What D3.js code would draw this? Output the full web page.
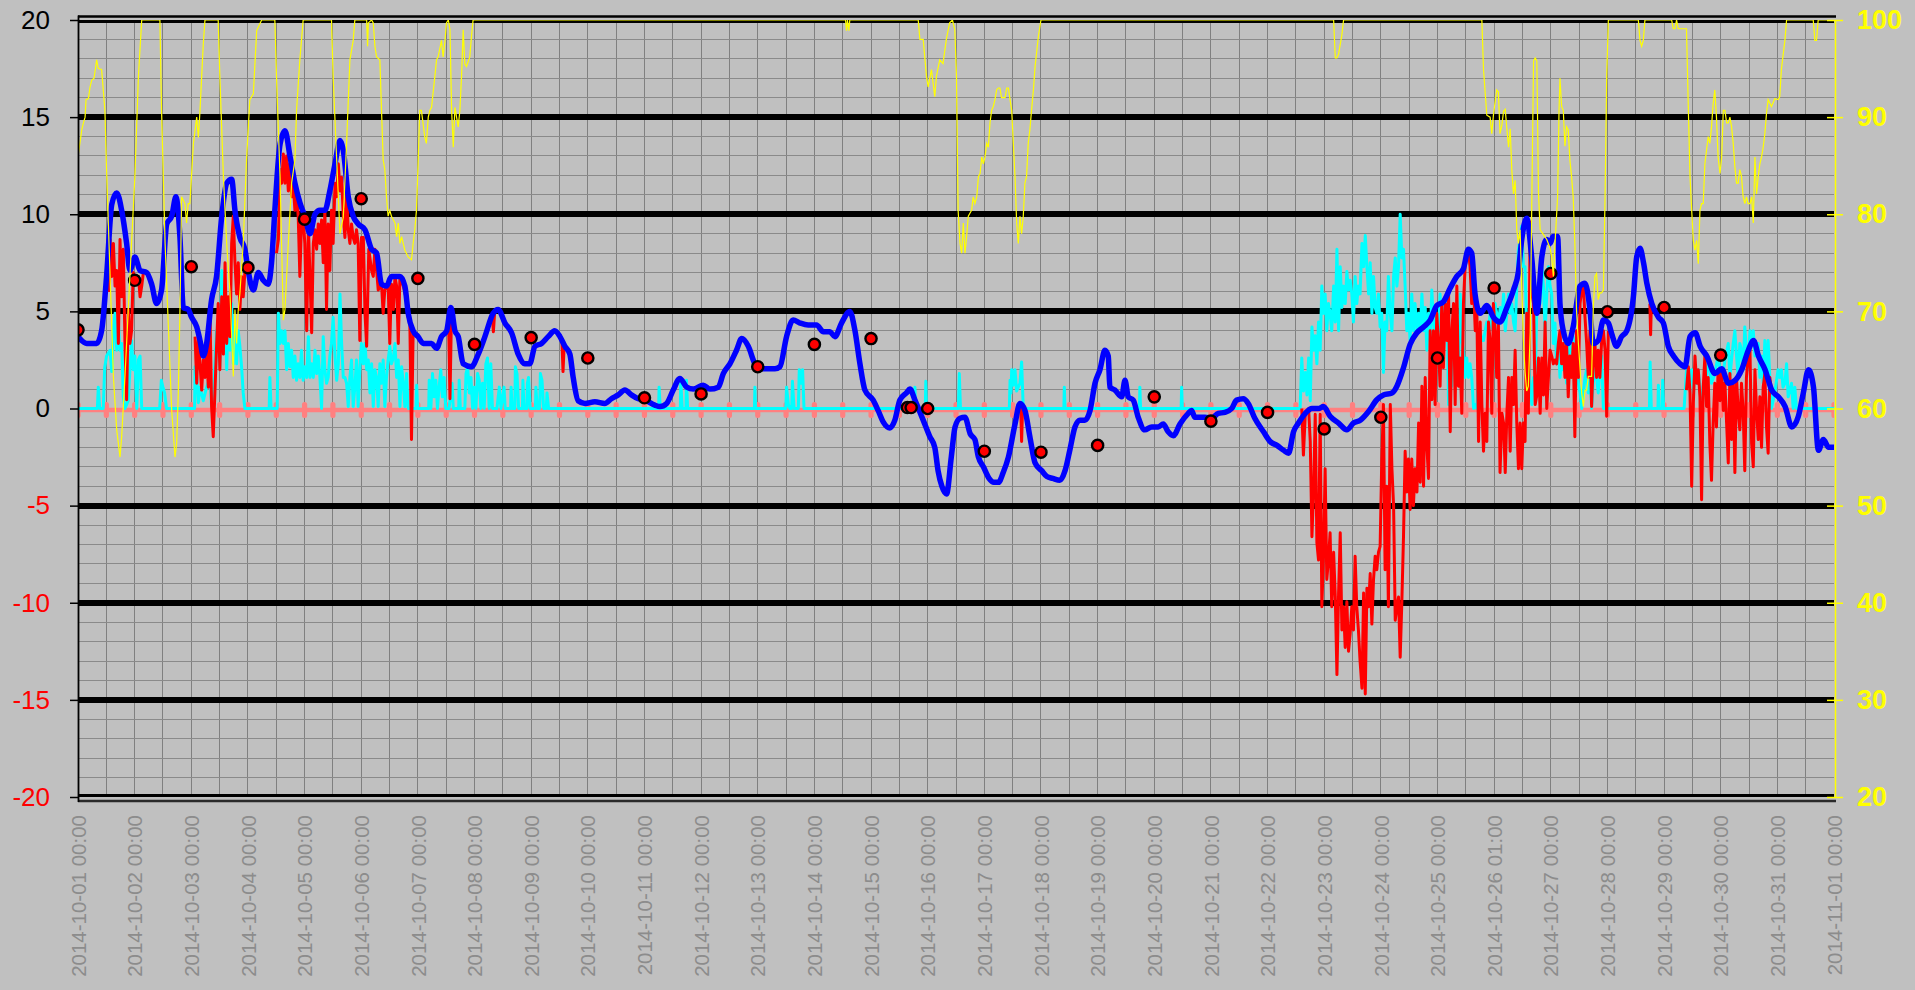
<!DOCTYPE html>
<html>
<head>
<meta charset="utf-8">
<script src="https://cdn.jsdelivr.net/npm/d3@7"></script>
<style>
  body { margin: 0; background: #c0c0c0; }
  svg { display: block; font-family: "Liberation Sans", Arial, sans-serif; }
</style>
</head>
<body>
<svg id="chart" width="1915" height="990"></svg>
<script>
// hours counted from 2014-10-01 00:00

var xTickLabels = ["2014-10-01 00:00","2014-10-02 00:00","2014-10-03 00:00","2014-10-04 00:00","2014-10-05 00:00",
  "2014-10-06 00:00","2014-10-07 00:00","2014-10-08 00:00","2014-10-09 00:00","2014-10-10 00:00","2014-10-11 00:00",
  "2014-10-12 00:00","2014-10-13 00:00","2014-10-14 00:00","2014-10-15 00:00","2014-10-16 00:00","2014-10-17 00:00",
  "2014-10-18 00:00","2014-10-19 00:00","2014-10-20 00:00","2014-10-21 00:00","2014-10-22 00:00","2014-10-23 00:00",
  "2014-10-24 00:00","2014-10-25 00:00","2014-10-26 01:00","2014-10-27 00:00","2014-10-28 00:00","2014-10-29 00:00",
  "2014-10-30 00:00","2014-10-31 00:00","2014-11-01 00:00"];

var leftTicks = [-20, -15, -10, -5, 0, 5, 10, 15, 20];
var rightTicks = [20, 30, 40, 50, 60, 70, 80, 90, 100];

// thick blue line
var blueTemp = [
  [0,3.7],[3.7,3.35],[7.9,3.35],[10,4.0],[12.1,6.8],[14.3,10.5],[16.4,11.1],[18.5,10.2],[20.6,8.5],[22,7.1],
  [24.1,7.8],[26.3,7.1],[29.1,7.0],[31.2,6.4],[33.3,5.4],[35.4,6.1],[37.6,9.5],[39.7,9.9],[41.5,10.9],[43.2,8.8],
  [44.6,5.2],[46.7,5.1],[48.1,4.7],[50.3,4.2],[51.7,3.5],[53.1,2.7],[54.5,3.35],[56.6,5.6],[58.7,6.8],[60.9,9.9],
  [63,11.6],[65.1,11.8],[66.5,10.2],[68.6,8.8],[70.7,8.2],[72.1,7.1],[74.3,6.1],[76.4,7.0],[78.5,6.6],[80.6,6.4],
  [82,7.5],[83.4,10.2],[85.6,13.6],[87.7,14.3],[89.8,13.0],[91.9,11.6],[94,10.6],[96.1,9.9],[98.3,9.0],[100.4,10.0],
  [102.5,10.2],[104.6,10.2],[106.7,11.2],[108.9,12.6],[111,13.8],[112.4,13.3],[114.5,10.9],[116.6,9.9],[118.7,9.5],
  [121.6,9.2],[124.4,8.2],[126.5,8.0],[128.6,6.4],[130.7,6.3],[132.8,6.8],[136.4,6.8],[138.5,6.3],[139.9,4.9],[142,4.0],
  [144.1,3.7],[146.3,3.35],[149.8,3.35],[151.9,3.1],[154,3.7],[156.2,4.0],[158,5.2],[159.7,4.0],[161.1,3.7],[163.2,2.3],
  [166.7,2.15],[169.6,2.8],[172.4,3.7],[175.9,4.9],[178,5.1],[180.9,4.4],[183.7,3.9],[186.5,2.8],[189.3,2.3],[191.4,2.3],
  [193.6,3.2],[196.4,3.35],[199.2,3.7],[202,4.0],[204.2,3.7],[206.3,3.2],[208.4,2.8],[209.8,1.6],[211.9,0.4],[214.8,0.26],
  [219,0.35],[223.2,0.26],[226,0.5],[228.9,0.7],[231.7,0.95],[234.5,0.7],[237.4,0.5],[240.2,0.43],[244.4,0.17],[246.6,0.1],
  [249.4,0.26],[252.2,0.95],[255,1.55],[257.9,1.1],[260.7,1.0],[264.9,1.2],[267.7,1.0],[271.3,1.1],[273.4,1.8],[276.2,2.3],
  [279,3.0],[281.2,3.6],[284,3.2],[286.8,2.3],[288.9,2.05],[295.3,2.05],[297.4,2.15],[300.2,3.7],[303,4.55],[305.9,4.4],
  [309.4,4.3],[312.9,4.3],[315.8,3.95],[318.6,3.95],[320.7,3.7],[323.5,4.4],[327,5.0],[329.2,4.0],[331.3,2.3],[333.4,0.95],
  [336.9,0.43],[339,-0.1],[341.2,-0.7],[344,-1.0],[346.1,-0.6],[348.2,0.43],[351,0.8],[352.5,1.0],[354.6,0.43],[358.1,-0.6],
  [360.9,-1.45],[363,-2.0],[364.4,-3.2],[366,-4.0],[368,-4.4],[370,-2.5],[371.6,-0.95],[373.7,-0.5],[375.8,-0.45],[378,-1.3],
  [380,-1.6],[381.5,-2.5],[383.6,-3.0],[386,-3.6],[388,-3.8],[390,-3.8],[392,-3.3],[394.2,-2.5],[397,-0.8],[399.1,0.26],
  [401.2,-0.1],[403.3,-1.45],[405.5,-2.8],[408.3,-3.2],[410.5,-3.5],[413,-3.6],[416,-3.7],[418.2,-3.2],[420.3,-2.1],[422.4,-0.95],
  [424.5,-0.6],[426.6,-0.6],[428.8,-0.1],[430.9,1.3],[433,2.0],[435.1,3.0],[436.5,2.7],[437.2,1.1],[439.3,0.95],[442.2,0.6],
  [443.6,1.45],[445,0.6],[447.1,0.43],[449.2,-0.45],[452,-1.1],[454.9,-0.95],[457.7,-0.95],[459.8,-0.8],[461.9,-1.2],[464.1,-1.4],
  [466.9,-0.8],[470.4,-0.25],[471.8,-0.1],[473.2,-0.45],[477.5,-0.45],[480.3,-0.5],[483.1,-0.25],[485.9,-0.2],[488.8,0],[490.9,0.43],
  [493.7,0.5],[495.8,0.26],[498.6,-0.5],[502.3,-1.2],[505.1,-1.7],[508,-1.9],[510.8,-2.15],[512.9,-2.3],[515,-1.2],[517.1,-0.75],
  [520,-0.25],[522.8,0],[525.6,0],[527.7,0.1],[530.5,-0.4],[534.1,-0.75],[537.6,-1.1],[540.4,-0.75],[543.3,-0.6],[546.8,-0.15],
  [550.3,0.45],[553.1,0.7],[556.7,0.8],[558.8,1.15],[561.6,2.1],[564.4,3.3],[567.3,3.9],[570.1,4.2],[572.9,4.55],[575.7,5.3],
  [578.5,5.5],[581.4,6.2],[584.2,6.8],[587,7.2],[589.1,8.2],[590.5,8.0],[591.9,5.9],[594.1,4.9],[596.9,5.3],[599.7,4.7],
  [602.5,4.45],[605.4,5.2],[608.2,6.1],[610.3,7.05],[611.7,8.7],[613.8,9.8],[615.9,7.8],[618.1,4.9],[620.2,7.8],[622.3,8.7],
  [623.7,8.5],[625,8.85],[626.9,8.85],[627.9,5.4],[629.3,4.0],[631.4,3.35],[633.5,4.2],[636.4,6.3],[638.5,6.45],[640.6,5.1],
  [642,3.35],[644.1,3.5],[646.3,4.55],[648.4,4.4],[649.8,3.85],[651.9,3.2],[654,3.7],[656.2,4.0],[659,5.75],[660.4,7.8],
  [661.8,8.25],[663.3,7.5],[664.7,6.45],[666.8,5.4],[669.6,4.7],[671.7,4.4],[673.8,3.2],[676,2.7],[678.8,2.3],[680.9,2.15],
  [683,3.7],[685.2,3.9],[687.3,3.2],[690.1,2.7],[693.6,1.8],[696.4,2.05],[699.3,1.3],[702.1,1.45],[704.9,2.0],[707.7,3.0],
  [709.9,3.5],[712,2.7],[714.8,2.0],[717.6,0.95],[720.4,0.6],[723.3,0.1],[726.1,-0.95],[728.9,-0.4],[731,0.8],[733.2,2.0],
  [735.3,1.1],[737.4,-2.15],[739.5,-1.6],[741.7,-2.0],[744,-2.0]
];

// spiky red line, null = gap
var redTemp = [
  [13.3,6.0],[13.6,8.7],[14.3,6.8],[15,8.5],[15.7,6.3],[16.4,7.1],[17.1,3.35],[17.8,8.7],[18.5,5.75],[19.2,8.2],[19.9,3.35],
  [20.6,0.45],[21.3,5.1],[22,3.35],[22.7,4.0],[23.4,7.0],[24.1,6.8],[25.6,6.8],[26.3,5.75],[27,6.3],[27.7,7.0],[27.8,null],
  [49.6,3.7],[50.3,1.3],[51,3.5],[51.7,2.3],[52.4,0.95],[53.1,2.5],[53.8,1.6],[54.5,3.2],[55.2,1.1],[55.9,5.1],[56.6,0.1],
  [57.3,-1.45],[58,0.8],[58.7,3.2],[59.4,5.4],[60.1,2.0],[60.9,5.75],[61.6,2.8],[62.3,7.5],[63,3.35],[63.7,5.75],[64.4,3.7],
  [65.1,8.5],[65.8,9.9],[66.5,7.5],[67.2,5.9],[67.9,7.5],[68.6,5.1],[69.3,6.8],[70,5.75],[70.7,7.0],[70.8,null],
  [84.1,8.0],[84.9,8.7],[85.6,12.3],[86.3,11.6],[87,13.1],[87.7,11.6],[88.4,13.0],[89.1,11.2],[89.8,12.6],[90.5,10.9],
  [91.2,11.6],[91.9,10.2],[92.6,11.1],[93.3,9.9],[94,6.8],[94.7,9.5],[95.4,9.9],[96.1,8.5],[96.9,4.0],[97.6,9.4],[98.3,6.8],
  [99,3.9],[99.7,8.5],[100.4,9.2],[101.1,8.2],[101.8,9.5],[102.5,8.5],[103.2,9.7],[103.9,7.5],[104.6,10.2],[105.3,5.1],
  [106,9.5],[106.7,7.1],[107.4,10.2],[108.1,8.5],[108.9,11.6],[109.6,10.9],[110.3,12.6],[111,11.2],[111.7,11.9],[112.4,9.9],
  [113.1,8.8],[113.8,11.2],[114.5,9.2],[115.2,8.5],[115.9,9.5],[116.6,8.8],[117.3,8.5],[118,9.2],[118.7,8.5],[119.4,3.5],
  [120.1,8.8],[120.9,8.8],[121.6,4.9],[122.3,3.2],[123.2,8.2],[124.4,7.1],[125.1,6.8],[125.8,8.2],[127.2,6.1],[128.6,6.4],
  [129.3,4.9],[130,6.1],[131.4,6.4],[132.1,3.35],[132.8,6.4],[133.6,5.1],[134.3,6.8],[135,6.3],[135.7,3.35],[136.4,6.8],
  [137.8,6.3],[139.2,5.6],[139.9,4.7],[140.6,4.4],[141.3,-1.6],[142,4.0],[142.7,3.7],[142.8,null],
  [157,4.6],[157.6,0.5],[158.2,4.6],[158.3,null],
  [175.5,4.8],[176,3.95],[176.5,4.9],[176.6,null],
  [205,3.6],[205.5,1.9],[206,3.3],[206.1,null],
  [399.4,0.1],[399.8,-1.7],[400.2,0.0],[400.3,null],
  [518.5,0],[519.2,-2.4],[520,-0.25],[521.4,0],[522.1,-1.7],[522.8,-6.6],[523.5,-4.3],[524.2,-0.3],[524.9,-6.9],[525.6,-7.8],
  [526.3,-0.3],[527,-10.2],[527.7,-7.6],[528.4,-3.1],[529.1,-8.8],[529.8,-7.8],[530.5,-6.4],[531.2,-10.2],[532,-7.4],[532.7,-9.7],
  [533.4,-13.7],[534.1,-9.5],[534.8,-6.4],[535.5,-11.4],[536.2,-10.2],[536.9,-12.3],[537.6,-9.95],[538.3,-12.5],[539,-11.6],
  [539.7,-10.2],[540.4,-11.4],[541.1,-7.6],[541.8,-10.2],[542.5,-11.4],[543.2,-13.0],[544,-14.4],[544.7,-9.5],[545.4,-14.7],
  [546.1,-9.25],[546.8,-10.2],[547.5,-8.5],[548.2,-11.1],[548.9,-8.8],[549.6,-7.6],[550.3,-8.3],[551,-7.4],[551.7,-7.1],
  [552.4,-2.6],[553.1,0.2],[553.8,-8.3],[554.5,-4.0],[555.2,-10.2],[556,0.2],[556.7,-3.1],[557.4,-5.0],[558.1,-10.9],
  [558.8,-10.2],[559.5,-9.7],[560.2,-12.8],[560.9,-9.95],[561.6,-6.6],[562.3,-2.2],[563,-4.3],[563.7,-2.6],[564.4,-5.2],
  [565.1,-2.6],[565.8,-5.0],[566.5,-3.1],[567.3,-4.3],[568,-0.75],[568.7,-3.8],[569.4,1.15],[570.1,-4.0],[570.8,1.6],
  [571.5,-1.9],[572.2,-3.6],[572.9,4.0],[573.6,0.45],[574.3,4.0],[575,0.2],[575.7,4.9],[576.4,3.3],[577.1,1.15],[577.8,5.4],
  [578.5,2.1],[579.3,5.4],[580,3.5],[580.7,5.9],[581.4,-1.2],[582.1,4.0],[582.8,5.4],[583.5,0.2],[584.2,6.3],[584.9,1.15],
  [585.6,2.6],[586.3,-0.25],[587,5.4],[587.7,7.3],[588.4,7.8],[589.1,8.2],[589.8,7.3],[590.5,5.4],[591.3,6.3],[592,4.0],
  [592.7,4.9],[593.4,-1.7],[594.1,4.45],[594.8,0.2],[595.5,-2.2],[596.2,-0.25],[596.9,-1.7],[597.6,4.45],[598.3,3.5],
  [599,-0.25],[599.7,5.4],[600.4,4.0],[601.1,1.6],[601.8,4.45],[602.5,-3.3],[603.3,-0.25],[604,-0.75],[604.7,-3.3],
  [605.4,-0.25],[606.1,1.6],[606.8,-2.2],[607.5,1.6],[608.2,0.2],[608.9,3.0],[609.6,-0.75],[610.3,-3.1],[611,-0.75],
  [611.7,-3.1],[612.4,-0.75],[613.1,-1.7],[613.8,4.9],[614.5,-0.25],[615.3,9.6],[616,5.9],[616.7,5.4],[617.4,0.2],[618.1,0.7],
  [618.8,2.6],[619.5,-0.25],[620.2,2.6],[620.9,0.7],[621.6,4.45],[622.3,0],[623,1.6],[623.7,3.0],[624.4,2.7],[625.1,2.3],
  [625.8,2.5],[626.5,2.3],[627.2,3.35],[627.9,4.0],[628.6,2.3],[629.3,3.35],[630,1.6],[630.7,3.35],[631.4,0.6],[632.1,2.7],
  [632.8,1.6],[633.5,3.35],[634.2,-1.45],[634.9,4.0],[635.7,1.6],[636.4,5.4],[637.1,6.1],[637.8,6.3],[638.5,4.7],[639.2,3.35],
  [639.9,1.6],[640.6,4.0],[641.3,0.1],[642,2.5],[642.7,3.35],[643.4,1.6],[644.1,3.0],[644.8,1.6],[645.5,3.35],[646.3,4.0],
  [647,3.0],[647.7,-0.4],[648.4,4.0],[648.5,null],
  [666,5.4],[666.3,3.8],[666.6,5.3],[666.7,null],
  [681.5,0.95],[682.3,2.15],[683,0.8],[683.7,-4.0],[684.4,0.25],[685.1,2.7],[685.8,1.3],[686.5,2.0],[687.2,0.6],[687.9,-4.7],
  [688.6,1.1],[689.3,2.7],[690,0.1],[690.7,1.6],[691.4,-1.8],[692.1,-3.7],[692.8,-0.75],[693.5,1.3],[694.2,-0.95],[694.9,2.0],
  [695.7,0.4],[696.4,2.0],[697.1,-0.1],[697.8,1.3],[698.5,-0.75],[699.2,-2.8],[699.9,1.8],[700.6,-1.6],[701.3,1.45],[702,-3.3],
  [702.7,1.6],[703.4,-0.1],[704.1,-1.1],[704.8,1.3],[705.5,-0.1],[706.2,-3.2],[706.9,1.6],[707.6,2.7],[708.4,3.0],[709.1,-1.8],
  [709.8,-3.0],[710.5,2.0],[711.2,-0.1],[711.9,-1.6],[712.6,0.6],[713.3,-2.0],[714,1.1],[714.7,1.8],[715.4,-0.95],[716.1,-2.3],
  [716.8,1.6],[717.5,0.95]
];

// cyan line, flat at zero between spikes
var cyanSeries = [
  [0,0],[8.2,0],[8.6,1.1],[9.2,0],[10.7,0],[11.3,2.1],[12.1,2.7],[13.6,3.0],[14.3,1.9],[15,4.0],[15.7,4.9],[16.4,3.0],
  [17.1,4.4],[17.8,3.0],[18.5,3.35],[19.2,0.6],[19.9,0],[21.3,0.4],[22,2.0],[22.7,3.5],[23.4,2.0],[24.1,2.7],[24.9,0],
  [25.6,2.5],[26.3,2.7],[27,0],[34.6,0],[35.3,1.45],[36,1.1],[36.7,0.8],[37.5,0],
  [49.4,0],[49.6,2.15],[50.3,1.6],[51,0.3],[51.7,1.1],[53.1,0.4],[54.5,1.1],[55.9,1.6],[56.6,0.1],[57.3,0.6],[58.7,4.0],
  [60.1,2.15],[60.9,7.1],[61.6,3.35],[62.3,5.75],[63,2.0],[63.7,5.1],[64.4,3.0],[65.1,5.4],[65.8,2.3],[66.5,4.2],[67.2,2.3],
  [67.9,4.0],[68.6,3.2],[69.3,2.15],[70,0.8],[70.7,0],[81,0],[81.3,1.6],[81.8,0],
  [84.4,0],[84.9,4.9],[85.6,3.35],[86.3,4.0],[87,3.35],[87.7,4.0],[88.4,2.0],[89.1,3.35],[89.8,2.15],[90.5,3.0],[91.2,1.6],
  [91.9,2.7],[92.6,1.45],[93.3,2.3],[94,1.6],[94.7,3.0],[95.4,1.45],[96.1,2.15],[96.9,1.6],[97.6,3.7],[98.3,1.6],[99,2.3],
  [99.7,1.6],[100.4,3.0],[101.1,1.8],[101.8,2.7],[102.5,1.6],[103.2,0],[103.9,3.7],[104.6,2.0],[105.3,1.3],[106,1.6],
  [106.7,2.7],[107.4,3.35],[108.1,4.7],[108.9,2.7],[109.6,1.45],[110.3,2.3],[111,5.9],[111.7,3.35],[112.4,1.6],[113.1,1.6],
  [113.8,1.3],[114.5,0.1],[115.2,1.6],[115.9,2.5],[116.6,0.1],[117.3,1.1],[118,2.5],[118.7,0.1],[119.4,2.0],[120.1,3.35],
  [120.9,2.3],[121.6,3.35],[122.3,2.0],[123,2.5],[123.7,0.8],[124.4,2.3],[125.1,0.1],[125.8,2.0],[126.5,1.6],[127.2,0.1],
  [127.9,2.3],[128.6,1.3],[129.3,2.5],[130,0.1],[130.7,1.6],[131.4,2.5],[132.1,3.2],[132.8,2.3],[133.6,2.6],[134.3,3.35],
  [135,1.6],[135.7,2.5],[136.4,0.1],[137.1,2.15],[137.8,1.3],[138.5,0.1],[139.2,1.8],[139.9,0],
  [143.2,0],[143.5,1.2],[143.9,0],[148.6,0],[148.8,1.45],[149.5,0],[150.2,1.8],[150.9,0.6],[151.6,1.45],[152.3,0],[153,1.1],
  [153.7,2.0],[154.4,0.6],[155.1,1.6],[155.8,0],[157.2,0],[158.5,1.3],[159,0],[161.3,0],[161.5,1.45],[162,0],[163.9,0],
  [164.4,1.8],[165.1,2.15],[165.8,0.8],[166.5,1.6],[167.2,0],[167.9,1.1],[168.6,0],[169.3,1.8],[170,1.45],[170.7,0],
  [171.4,1.3],[172.1,0],[172.8,2.3],[173.5,2.6],[174.2,0],[174.9,2.3],[175.6,0],[177.5,0],[178.5,1.1],[179.2,0],[180.5,1.1],
  [181,0],[183.3,0],[183.5,1.1],[184,0],[185.1,0],[185.3,2.15],[186,1.8],[186.7,0],[188.3,0],[188.5,1.45],[189,0],[190.2,0],
  [190.4,1.3],[190.9,1.6],[191.6,0],[193.8,0],[194,1.1],[194.6,0],[195.6,0],[195.9,1.8],[196.6,1.45],[197.3,0],[198.4,0],
  [198.7,0.8],[199.4,0],[246,0],[246.2,1.1],[246.7,0],[255.2,0],[255.4,1.4],[256,0],[257.6,0],[257.8,1.45],[258.3,0],
  [286.6,0],[286.8,1.1],[287.1,0],[299.9,0],[300.2,1.1],[301,0.2],[301.6,0],[302.4,0],[302.7,1.4],[303.4,0],[305.2,0],
  [305.6,2.0],[306.3,1.3],[307,2.0],[307.6,0],[354.4,0],[354.6,1.1],[354.9,0],[359,0],[359.2,1.4],[359.5,0],
  [373,0],[373.4,1.8],[373.9,0],[394.6,0],[394.9,1.45],[395.3,0.8],[395.6,2.0],[396.3,1.2],[397,2.0],[397.7,0.9],[398.4,1.1],
  [399.1,1.3],[399.8,2.4],[400.5,0],[417.7,0],[417.9,1.1],[418.2,0],[449.7,0],[449.9,1.1],[450.2,0],[467.4,0],[467.6,1.1],
  [467.9,0],
  [517.8,0],[518.5,2.6],[519.2,0.9],[520,1.85],[520.7,0.7],[521.4,2.6],[522.1,0.4],[522.8,4.2],[523.5,3.0],[524.2,3.75],
  [524.9,2.3],[525.6,4.45],[526.3,3.0],[527,6.3],[527.7,4.9],[528.4,5.9],[529.1,4.0],[529.8,5.4],[530.5,4.9],[531.2,4.0],
  [532,6.3],[532.7,4.45],[533.4,8.2],[534.1,4.0],[534.8,7.3],[535.5,5.2],[536.2,6.3],[536.9,5.4],[537.6,7.05],[538.3,6.1],
  [539,6.6],[539.7,5.9],[540.4,4.45],[541.1,6.8],[541.8,5.4],[542.5,6.3],[543.2,5.9],[544,8.5],[544.7,7.3],[545.4,8.9],
  [546.1,7.3],[546.8,5.9],[547.5,7.5],[548.2,4.9],[548.9,6.8],[549.6,5.2],[550.3,4.9],[551,5.9],[551.7,4.2],[552.4,4.9],
  [553.1,1.85],[553.8,4.45],[554.5,4.0],[555.2,6.8],[556,4.9],[556.7,4.0],[557.4,6.8],[558.1,7.75],[558.8,6.3],[559.5,7.3],
  [560.2,10.0],[560.9,7.75],[561.6,8.2],[562.3,6.3],[563,4.0],[563.7,4.9],[564.4,3.5],[565.1,5.9],[565.8,4.0],[566.5,5.4],
  [567.3,4.0],[568,4.9],[568.7,4.0],[569.4,5.9],[570.1,4.0],[570.8,5.2],[571.5,3.0],[572.2,4.9],[572.9,3.5],[573.6,6.1],
  [574.3,4.45],[575,3.5],[575.7,4.9],[576.4,4.0],[577.1,5.9],[577.8,3.0],[578.5,5.4],[579.3,4.45],[580,5.9],[580.7,0.2],
  [581.4,4.0],[582.1,1.15],[582.8,4.0],[583.5,2.6],[584.2,4.45],[584.9,1.6],[585.6,5.9],[586.3,3.5],[587,3.0],[587.7,1.6],
  [588.4,2.6],[589.1,1.6],[589.8,2.3],[590.5,1.6],[591.3,0],[592,0.2],[592.7,0],[593.4,2.1],[594.1,4.0],[594.8,3.5],
  [595.5,3.5],[596.2,4.0],[596.9,4.45],[597.6,4.0],[598.3,4.9],[599,4.2],[599.7,4.0],[600.4,5.4],[601.1,4.9],[601.8,4.0],
  [602.5,5.2],[603.3,4.45],[604,5.9],[604.7,4.0],[605.4,4.9],[606.1,5.9],[606.8,4.9],[607.5,5.4],[608.2,4.45],[608.9,4.0],
  [609.6,6.3],[610.3,8.2],[611,8.7],[611.7,9.4],[612.4,7.3],[613.1,7.3],[613.8,4.0],[614.5,2.6],[615.3,1.15],[616,0.2],
  [616.7,1.6],[617.4,1.15],[618.1,5.4],[618.8,6.3],[619.5,5.4],[620.2,7.3],[620.9,6.3],[621.6,4.0],[622.3,5.9],[623,7.3],
  [623.7,6.3],[624.4,5.9],[625.1,3.35],[625.8,4.4],[626.5,2.3],[627.2,3.35],[627.9,1.6],[628.6,2.5],[629.3,2.0],[630,3.35],
  [630.7,1.3],[631.4,2.3],[632.1,3.35],[632.8,2.15],[633.5,3.7],[634.2,1.6],[634.9,3.35],[635.7,1.3],[636.4,0.8],[637.1,0],
  [638.5,1.6],[639.2,2.0],[639.9,0.8],[640.6,2.0],[641.3,0],[642,1.3],[642.7,2.0],[643.4,1.6],[644.1,0.8],[644.8,2.0],
  [645.5,2.7],[646.3,0],[665.8,0],[666.1,2.4],[666.6,0],[669.4,0],[669.6,1.2],[669.9,0],[671.2,0],[671.4,1.45],[671.8,0],
  [680.5,0],[680.9,0.8],[681.6,2.1],[682.3,1.1],[683.7,2.0],[684.4,0.8],[685.1,2.15],[685.8,1.3],[686.5,2.0],[687.9,0.3],
  [689.3,1.1],[690.7,2.5],[692.1,1.3],[693.5,1.8],[694.9,2.7],[696.4,1.3],[697.8,2.5],[699.2,3.35],[699.9,1.6],[700.6,2.5],
  [701.3,3.35],[702,4.0],[702.7,2.7],[703.4,1.6],[704.1,3.35],[704.8,3.0],[705.5,2.0],[706.2,4.2],[706.9,3.0],[707.6,2.0],
  [708.4,4.0],[709.1,3.35],[709.8,4.0],[710.5,2.7],[711.9,3.35],[712.6,1.6],[713.3,2.7],[714,1.3],[714.7,3.5],[715.4,1.6],
  [716.1,3.5],[716.8,1.6],[717.5,0],[718.9,0.8],[720.3,2.0],[721,1.6],[721.7,2.0],[722.4,1.1],[723.2,1.3],[723.9,2.3],
  [724.6,0.6],[726,1.3],[726.7,0],[727.4,1.1],[728.1,0],[744,0]
];

// thin yellow line on the right axis
var yellowHumidity = [
  [0,85.9],[1.6,88.7],[2.3,89.4],[3,90.0],[3.4,91.8],[4.4,91.9],[5.1,93.1],[5.8,93.8],[6.8,94.0],[7.9,95.9],[8.6,95.0],
  [10,94.9],[11.4,90.7],[12.1,84.6],[13.6,73.6],[15,63.3],[16.4,57.8],[17.8,55.0],[18.5,57.1],[19.9,63.3],[21.3,70.2],
  [22.7,77.1],[24.1,83.9],[25.6,94.2],[27,100],[34.7,100],[35.4,90.7],[36.9,77.0],[38.3,68.4],[39.7,59.8],[41.1,55.0],
  [41.8,56.4],[42.5,61.6],[43.2,70.2],[43.9,81.8],[45.3,81.1],[46,79.1],[46.7,81.1],[47.4,81.1],[48.9,87.3],[50.3,90.0],
  [51,87.9],[51.7,90.7],[52.4,94.2],[53.1,97.6],[53.8,100],[59.4,100],[60.1,94.2],[61.6,83.9],[63,77.0],[64.4,71.9],
  [65.8,63.3],[66.5,70.2],[67.2,66.7],[67.9,70.2],[68.6,71.9],[70,77.0],[71.4,85.6],[72.8,91.8],[74.3,92.4],[75.7,98.9],
  [77.8,100],[83.4,100],[84.1,94.2],[85.6,83.9],[87,69.1],[87.7,70.2],[89.1,77.0],[90.5,83.2],[91.9,85.6],[92.6,90.7],
  [94,95.9],[95.4,100],[107.4,100],[108.1,94.2],[109.6,85.6],[111,78.0],[112.4,79.7],[113.8,87.3],[115.2,95.9],[116.6,97.9],
  [117.3,100],[122.3,100],[122.7,97.3],[123,99.7],[124.4,100],[125.1,99.7],[125.8,97.3],[126.5,96.2],[127.9,95.9],
  [128.6,90.7],[129.3,85.6],[130,84.6],[130.7,81.8],[131.4,79.8],[132.1,80.4],[132.8,79.8],[134.3,79.1],[135,77.7],
  [135.7,79.1],[136.4,77.0],[137.1,77.7],[138.5,76.3],[139.9,75.6],[141.3,75.3],[142,77.0],[142.7,78.4],[143.4,80.4],
  [144.1,85.2],[144.8,90.7],[145.5,90.7],[146.9,88.0],[147.6,87.3],[148.4,90.0],[149.1,90.7],[149.8,91.0],[151.2,94.2],
  [151.9,95.9],[152.6,96.2],[154,97.9],[154.7,96.2],[155.4,97.6],[156.1,99.7],[156.9,100],[157.6,99.0],[158.3,90.7],
  [159,86.9],[159.7,91.0],[161.1,89.0],[161.8,90.7],[162.5,94.2],[163.2,99.0],[163.9,95.5],[164.6,95.2],[166,96.2],
  [166.7,98.3],[167.4,100],[325.2,100],[325.6,98.9],[326,100],[326.6,98.9],[327,100],[356,100],[356.7,98.0],[358.1,98.0],
  [359.5,94.2],[360.2,93.1],[361.6,94.9],[363,92.1],[363.7,94.2],[365.1,95.9],[366.5,95.5],[367.9,98.0],[369.3,99.7],
  [370.5,100],[371.5,99.0],[372.2,94.2],[372.9,80.4],[373.7,77.0],[374.4,76.0],[375.1,79.1],[375.8,76.0],[376.5,77.7],
  [377.2,79.8],[377.9,80.1],[378.6,80.4],[379.3,81.8],[380,81.1],[380.8,81.8],[381.5,83.9],[382.2,84.2],[382.9,85.9],
  [383.6,85.2],[384.3,85.9],[385,87.3],[385.7,86.9],[386.4,89.4],[387.1,90.7],[387.8,91.1],[388.5,91.8],[389.2,92.8],
  [389.9,93.0],[390.6,93.0],[391.3,92.0],[392.8,92.0],[393.5,93.0],[394.2,93.0],[394.9,91.8],[395.6,90.7],[396.3,87.3],
  [397,83.9],[397.7,79.1],[398.4,77.0],[399.1,79.8],[399.8,78.0],[400.5,79.8],[401.2,83.2],[401.9,83.9],[402.6,87.3],
  [403.3,88.7],[404,90.7],[404.8,92.8],[405.5,95.2],[406.9,98.3],[408,100],[532,100],[532.7,96.1],[533.4,96.1],
  [534.1,96.5],[534.8,97.5],[535.5,98.5],[536.2,100],[594.8,100],[595.5,94.9],[596.9,90.2],[598.3,90.0],[599,88.3],
  [599.7,90.2],[601.1,92.8],[601.8,92.6],[602.5,88.3],[603.3,89.2],[604,90.6],[604.7,90.8],[605.4,88.8],[606.1,86.9],
  [606.8,88.8],[607.5,84.5],[608.2,82.1],[608.9,83.5],[609.6,78.4],[610.3,77.0],[611,78.4],[611.7,72.7],[612.4,67.1],
  [613.1,63.8],[613.8,61.8],[614.5,62.3],[615.3,67.9],[616,82.1],[616.7,95.8],[617.4,96.1],[618.1,95.8],[618.8,82.1],
  [619.5,78.4],[620.9,77.9],[622.3,77.4],[623.7,76.5],[624.4,75.6],[625.1,73.6],[625.8,77.0],[626.9,81.8],[627.5,90.7],
  [627.9,94.0],[628.6,91.1],[629.3,90.7],[630,87.0],[630.7,89.0],[631.4,88.7],[632.1,85.6],[632.8,83.9],[633.5,81.8],
  [634.2,77.0],[634.9,70.2],[635.7,66.7],[637.1,61.6],[637.8,60.2],[638.5,61.9],[639.2,61.9],[639.9,63.3],[641.3,63.3],
  [642,70.2],[642.7,73.6],[643.4,73.9],[644.1,71.2],[644.8,71.9],[645.5,71.9],[646.3,72.2],[647,81.8],[647.7,94.2],
  [648.4,100],[661.1,100],[661.8,97.9],[662.5,97.3],[663.2,97.9],[663.9,100],[675.2,100],[675.9,99.1],[676.6,99.1],
  [677.3,100],[678,99.1],[681.5,99.1],[682.3,90.7],[683,83.9],[683.7,80.4],[684.4,77.3],[685.1,76.3],[685.8,77.3],
  [686.5,74.9],[687.2,80.4],[687.9,81.1],[688.6,81.1],[689.3,85.2],[690,86.6],[690.7,88.0],[691.4,87.3],[692.1,89.0],
  [692.8,91.4],[693.5,92.8],[694.2,90.0],[694.9,85.9],[695.7,84.2],[696.4,85.9],[697.1,90.7],[697.8,90.7],[698.5,89.4],
  [699.2,89.4],[699.9,90.0],[700.6,89.0],[701.3,87.3],[702,84.9],[702.7,83.2],[703.4,83.2],[704.1,84.6],[704.8,83.9],
  [705.5,81.8],[706.2,81.1],[706.9,81.8],[707.6,81.1],[708.4,81.1],[709.1,81.8],[709.8,79.1],[710.5,85.9],[711.2,82.1],
  [711.9,83.9],[712.6,85.2],[713.3,85.9],[714,86.9],[714.7,88.3],[715.4,90.4],[716.1,91.8],[717.5,91.1],[718.9,91.9],
  [720.3,91.8],[721,92.1],[721.7,94.9],[723.2,97.9],[723.9,100],[735.2,100],[735.9,97.9],[736.6,97.9],[737.3,100],[744,100]
];

// red dots with black rim
var dailyDots = [
  [0,4.05],[24,6.6],[48,7.3],[72,7.25],[96,9.75],[120,10.8],[144,6.7],[168,3.3],[192,3.65],[216,2.6],[240,0.55],
  [264,0.75],[288,2.15],[312,3.3],[336,3.6],[351.4,0.05],[353,0.05],[360,0],[384,-2.2],[408,-2.25],[432,-1.9],[456,0.6],
  [480,-0.65],[504,-0.2],[528,-1.05],[552,-0.45],[576,2.6],[600,6.2],[624,6.95],[648,4.98],[672,5.2],[696,2.75]
];

// ---------------------------------------------------------------

var width = 1915, height = 990;
var plot = {left: 78, right: 1834, top: 20, bottom: 797};

var x = d3.scaleLinear().domain([0, 744]).range([plot.left, plot.right]);
var y = d3.scaleLinear().domain([-20, 20]).range([plot.bottom, plot.top]);
var yR = d3.scaleLinear().domain([20, 100]).range([plot.bottom, plot.top]);

var svg = d3.select("#chart");
svg.append("rect").attr("width", width).attr("height", height).attr("fill", "#c0c0c0");

svg.append("defs").append("clipPath").attr("id", "plotClip").append("rect")
  .attr("x", plot.left).attr("y", plot.top)
  .attr("width", plot.right - plot.left).attr("height", plot.bottom - plot.top);

// grid
var grid = svg.append("g").attr("clip-path", "url(#plotClip)").attr("shape-rendering", "crispEdges");

grid.selectAll(".vgrid").data(d3.range(12, 744, 12)).enter().append("line")
  .attr("x1", d => x(d)).attr("x2", d => x(d))
  .attr("y1", plot.top).attr("y2", plot.bottom)
  .attr("stroke", "#808080").attr("stroke-width", 1);

grid.selectAll(".hgrid").data(d3.range(-20, 21).filter(d => d % 5 !== 0)).enter().append("line")
  .attr("x1", plot.left).attr("x2", plot.right)
  .attr("y1", d => y(d)).attr("y2", d => y(d))
  .attr("stroke", "#8a8a8a").attr("stroke-width", 1);

// thick lines every 5, the zero line is left to the pink series
grid.selectAll(".hmajor").data(leftTicks.filter(d => d !== 0)).enter().append("line")
  .attr("x1", plot.left).attr("x2", plot.right)
  .attr("y1", d => y(d)).attr("y2", d => y(d))
  .attr("stroke", "#000").attr("stroke-width", 6);

// frame
svg.append("line").attr("x1", plot.left).attr("x2", 1836).attr("y1", 16.5).attr("y2", 16.5)
  .attr("stroke", "#000").attr("stroke-width", 2.5);
svg.append("line").attr("x1", plot.left).attr("x2", 1836).attr("y1", 801).attr("y2", 801)
  .attr("stroke", "#2a2a2a").attr("stroke-width", 2.5);

// data
var data = svg.append("g").attr("clip-path", "url(#plotClip)");

var line = d3.line()
  .defined(d => d[1] !== null)
  .x(d => x(d[0]))
  .y(d => y(d[1]));

var lineR = d3.line()
  .x(d => x(d[0]))
  .y(d => yR(d[1]));

// pink zero line with markers every 12 hours (sits a touch below the cyan baseline)
var zeroY = y(0) + 1.5;
data.append("line")
  .attr("x1", plot.left).attr("x2", plot.right)
  .attr("y1", zeroY).attr("y2", zeroY)
  .attr("stroke", "#ff8080").attr("stroke-width", 4.5);
data.selectAll(".zmark").data(d3.range(0, 745, 12)).enter().append("rect")
  .attr("x", d => x(d) - 2.6).attr("y", zeroY - 8)
  .attr("width", 5.2).attr("height", 16).attr("rx", 2.5)
  .attr("fill", "#ff8080");

data.append("path").datum(cyanSeries)
  .attr("d", line).attr("fill", "none")
  .attr("stroke", "#00ffff").attr("stroke-width", 3).attr("stroke-linejoin", "round");

data.append("path").datum(redTemp)
  .attr("d", line).attr("fill", "none")
  .attr("stroke", "#ff0000").attr("stroke-width", 3).attr("stroke-linejoin", "round");

data.append("path").datum(blueTemp)
  .attr("d", line.curve(d3.curveMonotoneX)).attr("fill", "none")
  .attr("stroke", "#0000ff").attr("stroke-width", 5.5)
  .attr("stroke-linejoin", "round").attr("stroke-linecap", "round");

data.selectAll(".dot").data(dailyDots).enter().append("circle")
  .attr("cx", d => x(d[0])).attr("cy", d => y(d[1]))
  .attr("r", 5.6)
  .attr("fill", "#ff0000").attr("stroke", "#000").attr("stroke-width", 2.4);

data.append("path").datum(yellowHumidity)
  .attr("d", lineR).attr("fill", "none")
  .attr("stroke", "#ffff00").attr("stroke-width", 1.2);

// left axis
svg.append("line").attr("x1", 78.5).attr("x2", 78.5).attr("y1", 15.5).attr("y2", 802)
  .attr("stroke", "#000").attr("stroke-width", 1.8);

var yAxis = d3.axisLeft(y).tickValues(leftTicks).tickSize(8).tickSizeOuter(0).tickPadding(20)
  .tickFormat(d => String(d));
var gy = svg.append("g").attr("transform", "translate(" + plot.left + ",0)").call(yAxis);
gy.select(".domain").remove();
gy.selectAll(".tick line").attr("stroke", "#000").attr("stroke-width", 1.5);
gy.selectAll(".tick text")
  .attr("font-size", 26)
  .attr("font-family", "'Liberation Sans', Arial, sans-serif")
  .attr("fill", d => d < 0 ? "#ff0000" : "#000");

// right axis
var yAxisR = d3.axisRight(yR).tickValues(rightTicks).tickSize(8).tickSizeOuter(0).tickPadding(14);
var gr = svg.append("g").attr("transform", "translate(1835,0)").call(yAxisR);
gr.select(".domain").attr("stroke", "#ffff00").attr("stroke-width", 1.5);
gr.selectAll(".tick line").attr("stroke", "#ffff00").attr("stroke-width", 1.5).attr("x1", -8);
gr.selectAll(".tick text")
  .attr("font-size", 27).attr("font-weight", "bold")
  .attr("font-family", "'Liberation Sans', Arial, sans-serif")
  .attr("fill", "#ffff00");

// x axis, one label per day
var xAxis = d3.axisBottom(x).tickValues(d3.range(0, 745, 24)).tickSize(0)
  .tickFormat((d, i) => xTickLabels[i]);
var gx = svg.append("g").attr("transform", "translate(0," + plot.bottom + ")").call(xAxis);
gx.select(".domain").remove();
gx.selectAll(".tick text")
  .attr("transform", "rotate(-90)")
  .attr("text-anchor", "end")
  .attr("x", -18).attr("y", 0).attr("dy", "0.35em")
  .attr("font-size", 20.5)
  .attr("font-family", "'Liberation Sans', Arial, sans-serif")
  .attr("fill", "#8c8c8c");
</script>
</body>
</html>
